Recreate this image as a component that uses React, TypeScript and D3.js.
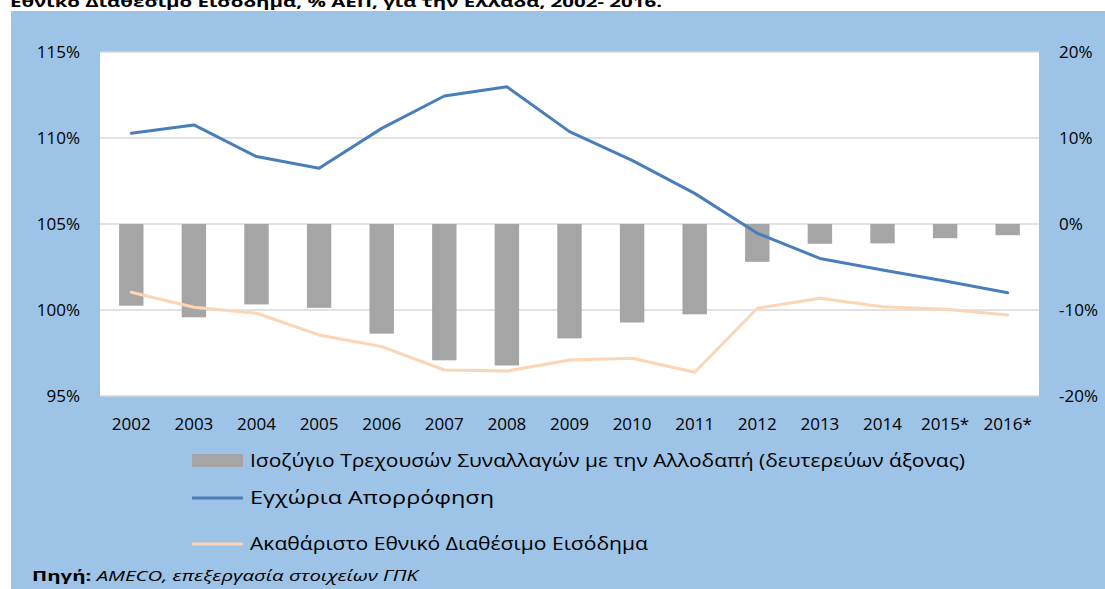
import React from "react";
import * as d3 from "d3";

const years = ["2002","2003","2004","2005","2006","2007","2008","2009","2010","2011","2012","2013","2014","2015*","2016*"];
const currentAccount = [-9.5,-10.85,-9.35,-9.75,-12.75,-15.85,-16.45,-13.3,-11.45,-10.5,-4.4,-2.3,-2.25,-1.65,-1.3];
const domesticAbsorption = [110.27,110.76,108.92,108.24,110.56,112.44,112.98,110.37,108.7,106.78,104.46,103.0,102.33,101.69,101.0];
const grossNationalIncome = [101.03,100.16,99.81,98.55,97.87,96.51,96.45,97.09,97.19,96.38,100.1,100.68,100.19,100.04,99.71];
const leftTicks = [95,100,105,110,115];
const rightTicks = [-20,-10,0,10,20];
const legendLabels = [
  "Ισοζύγιο Τρεχουσών Συναλλαγών με την Αλλοδαπή (δευτερεύων άξονας)",
  "Εγχώρια Απορρόφηση",
  "Ακαθάριστο Εθνικό Διαθέσιμο Εισόδημα",
];
const title = "Εθνικό Διαθέσιμο Εισόδημα, % ΑΕΠ, για την Ελλάδα, 2002- 2016.";

const W = 1105, H = 589;
const plot = { left: 100, right: 1039, top: 52, bottom: 396 };
const font = "'Open Sans', 'Noto Sans', sans-serif";

export default function App() {
  const x = d3.scaleBand<string>().domain(years).range([plot.left, plot.right]).paddingInner(0).paddingOuter(0);
  const yL = d3.scaleLinear().domain([95, 115]).range([plot.bottom, plot.top]);
  const yR = d3.scaleLinear().domain([-20, 20]).range([plot.bottom, plot.top]);
  const bw = x.bandwidth() * 0.39;
  const cx = (d: string) => (x(d) as number) + x.bandwidth() / 2;
  const line = d3.line<number>().x((_, i) => cx(years[i])).y((v) => yL(v));

  return (
    <svg width={W} height={H} style={{ position: "absolute", left: 0, top: 0, background: "#fff" }} fontFamily={font}>
      <text x={10} y={7} fontSize={15} fontWeight="bold" fill="#000" textLength={652} lengthAdjust="spacingAndGlyphs">{title}</text>
      <rect x={11} y={11} width={W - 11} height={H - 11} fill="#9DC3E6" />
      <rect x={plot.left} y={plot.top} width={plot.right - plot.left} height={plot.bottom - plot.top} fill="#fff" />
      {leftTicks.map((t) => (
        <line key={t} x1={plot.left} x2={plot.right} y1={yL(t)} y2={yL(t)} stroke="#D9D9D9" strokeWidth={1.3} />
      ))}
      {currentAccount.map((v, i) => (
        <rect key={i} x={cx(years[i]) - bw / 2} y={yR(Math.max(0, v))} width={bw} height={Math.abs(yR(v) - yR(0))} fill="#A5A5A5" />
      ))}
      <path d={line(grossNationalIncome) || ""} fill="none" stroke="#FCD5B5" strokeWidth={3} strokeLinejoin="round" strokeLinecap="round" />
      <path d={line(domesticAbsorption) || ""} fill="none" stroke="#4A7EBB" strokeWidth={3} strokeLinejoin="round" strokeLinecap="round" />
      {leftTicks.map((t) => (
        <text key={t} x={80} y={yL(t)} dy="0.35em" textAnchor="end" fontSize={17} fill="#000">{t}%</text>
      ))}
      {rightTicks.map((t) => (
        <text key={t} x={1059} y={yR(t)} dy="0.35em" textAnchor="start" fontSize={17} fill="#000">{t}%</text>
      ))}
      {years.map((y) => (
        <text key={y} x={cx(y)} y={424} dy="0.35em" textAnchor="middle" fontSize={17} fill="#000">{y}</text>
      ))}
      <rect x={192} y={454} width={51} height={13} fill="#A5A5A5" />
      <line x1={192} x2={243} y1={498} y2={498} stroke="#4A7EBB" strokeWidth={3} />
      <line x1={192} x2={243} y1={544} y2={544} stroke="#FCD5B5" strokeWidth={3} />
      <text x={250} y={461} dy="0.35em" fontSize={18} fill="#000" textLength={715} lengthAdjust="spacingAndGlyphs">{legendLabels[0]}</text>
      <text x={250} y={498} dy="0.35em" fontSize={18} fill="#000" textLength={244} lengthAdjust="spacingAndGlyphs">{legendLabels[1]}</text>
      <text x={250} y={544} dy="0.35em" fontSize={18} fill="#000" textLength={398} lengthAdjust="spacingAndGlyphs">{legendLabels[2]}</text>
      <text x={32} y={576} dy="0.35em" fontSize={15} fill="#000" textLength={386} lengthAdjust="spacingAndGlyphs">
        <tspan fontWeight="bold">Πηγή:</tspan>
        <tspan fontStyle="italic"> AMECO, επεξεργασία στοιχείων ΓΠΚ</tspan>
      </text>
    </svg>
  );
}
